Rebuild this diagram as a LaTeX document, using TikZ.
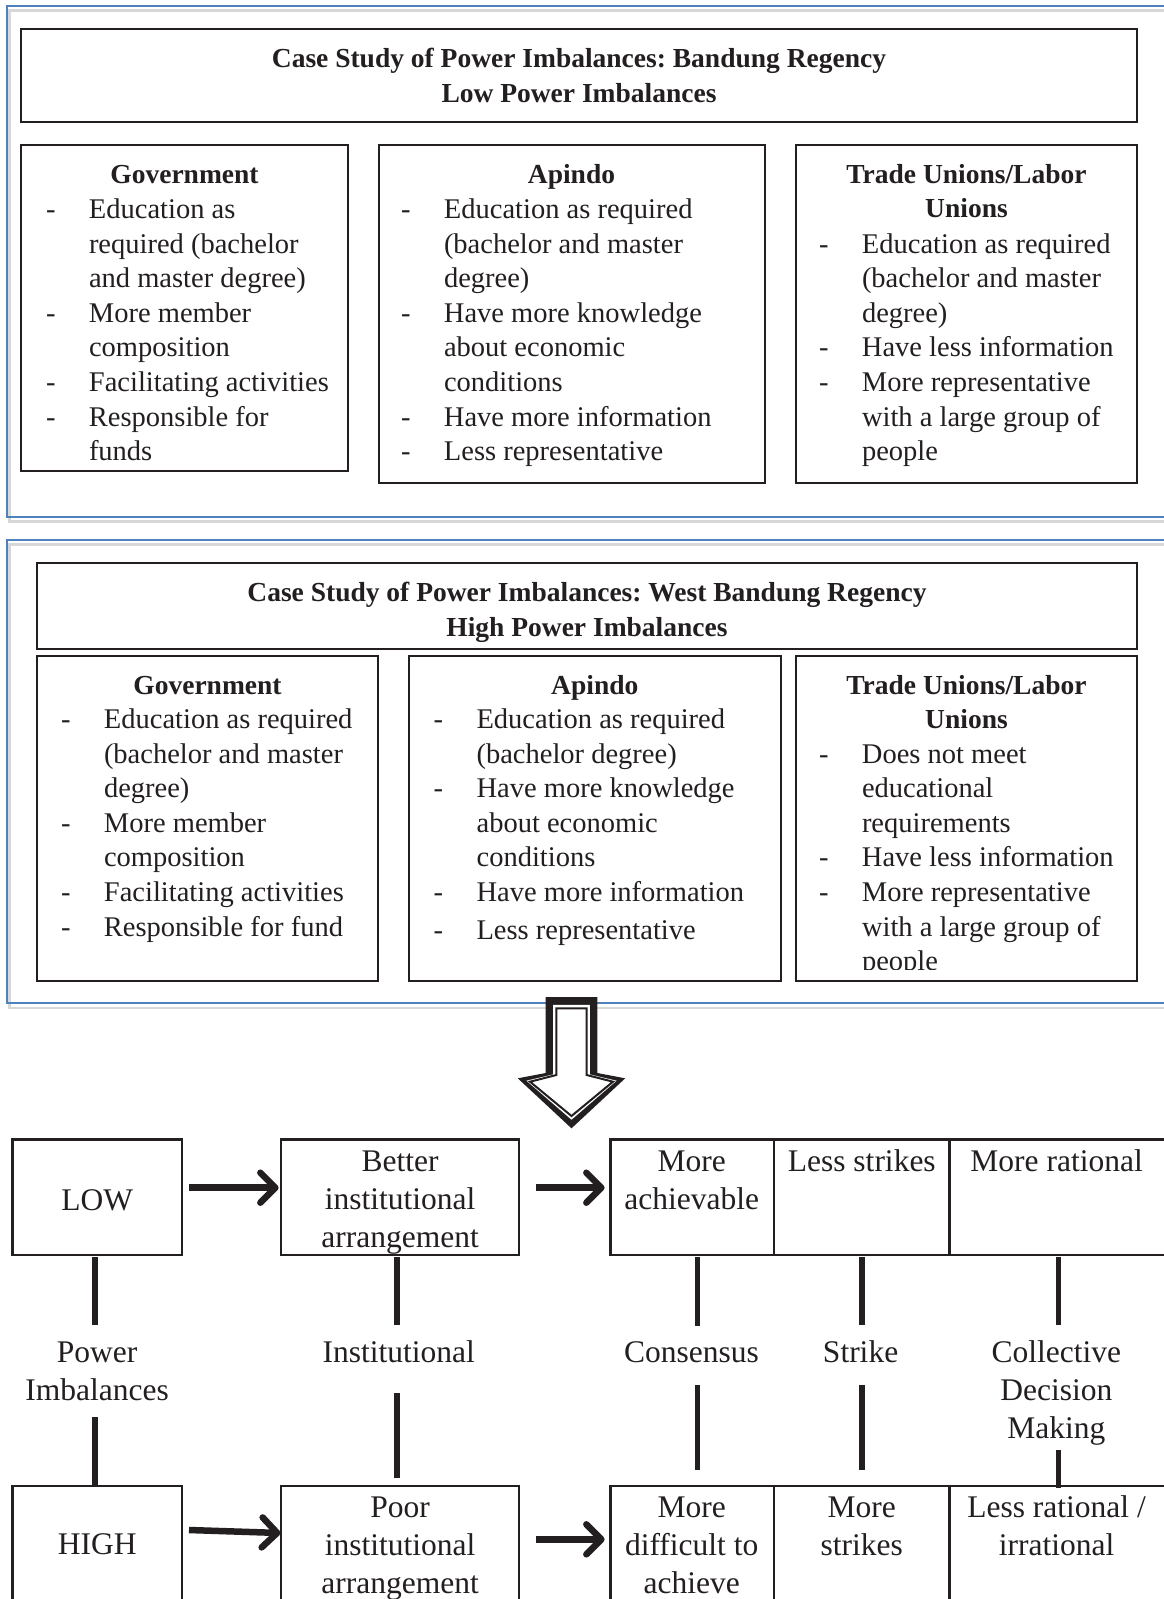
\documentclass[tikz,border=0pt]{standalone}
\usepackage{fontspec}
\setmainfont{Liberation Serif}
\usetikzlibrary{arrows.meta}
\frenchspacing
\definecolor{ink}{RGB}{35,31,32}
\definecolor{frameblue}{RGB}{79,129,189}
\definecolor{shadowgray}{RGB}{216,216,216}
\newcommand{\bodyfont}{\fontsize{28.5pt}{34.6pt}\selectfont}
\newcommand{\headsize}{\fontsize{27.5pt}{34.6pt}\selectfont}
\newcommand{\bigfont}{\fontsize{31.5pt}{38pt}\selectfont}
\newcommand{\mlc}[1]{\begin{minipage}[t]{440pt}\centering #1\end{minipage}}
\newcommand{\mlcw}[1]{\begin{minipage}[t]{1080pt}\centering #1\end{minipage}}
\newcommand{\mll}[1]{\begin{minipage}[t]{440pt}\raggedright #1\end{minipage}}
\newcommand{\bl}[1]{\makebox[43pt][l]{-}#1}
\newcommand{\cl}[1]{\hspace*{43pt}#1}
\tikzset{
  panel/.style={draw=ink, line width=2pt, anchor=north west, inner sep=0pt, outer sep=0pt},
  flowbox/.style={draw=ink, line width=2.3pt, anchor=north west, inner sep=0pt, outer sep=0pt},
  ctxt/.style={anchor=base, inner sep=0pt, outer sep=0pt, text=ink},
  ltxt/.style={anchor=base west, inner sep=0pt, outer sep=0pt, text=ink},
  headfont/.style={font=\headsize\bfseries},
  listfont/.style={font=\bodyfont},
  flowfont/.style={font=\bigfont},
  vl/.style={line width=5.5pt, draw=ink},
  harr/.style={line width=6.5pt, draw=ink, -{Straight Barb[length=15pt,width=30pt,round]}},
  bluefr/.style={draw=frameblue, line width=2.2pt},
  grayfr/.style={draw=shadowgray, line width=2.5pt},
}
\begin{document}
\begin{tikzpicture}[x=1pt,y=-1pt]
\useasboundingbox (0,0) rectangle (1163,1599);
\fill[white] (0,0) rectangle (1163,1599);

% ---------- blue frames ----------
\draw[grayfr] (1200,10.5) -- (9.5,10.5) -- (9.5,521.5) -- (1200,521.5);
\draw[bluefr] (1200,6) -- (7,6) -- (7,517) -- (1200,517);
\draw[grayfr] (1200,544.5) -- (9.5,544.5) -- (9.5,1007.8) -- (1200,1007.8);
\draw[bluefr] (1200,540) -- (7,540) -- (7,1003.3) -- (1200,1003.3);

% ---------- section 1 ----------
\node[panel, minimum width=1116pt, minimum height=93pt] (t1) at (21,29) {};
\node[panel, minimum width=327pt, minimum height=326pt] (g1) at (21,145) {};
\node[panel, minimum width=386.5pt, minimum height=338pt] (a1) at (378.5,145) {};
\node[panel, minimum width=341pt, minimum height=338pt] (u1) at (796,145) {};

\node[ctxt, headfont] (t1t) at (579,67.5) {\mlcw{Case Study of Power Imbalances: Bandung Regency\\Low Power Imbalances}};
\node[ctxt, headfont] (g1h) at (184.5,183) {Government};
\node[ltxt, listfont] (g1l) at (46,218.5) {\mll{\bl{Education as}\\\cl{required (bachelor}\\\cl{and master degree)}\\\bl{More member}\\\cl{composition}\\\bl{Facilitating activities}\\\bl{Responsible for}\\\cl{funds}}};
\node[ctxt, headfont] (a1h) at (571.5,183) {Apindo};
\node[ltxt, listfont] (a1l) at (401,218.5) {\mll{\bl{Education as required}\\\cl{(bachelor and master}\\\cl{degree)}\\\bl{Have more knowledge}\\\cl{about economic}\\\cl{conditions}\\\bl{Have more information}\\\bl{Less representative}}};
\node[ctxt, headfont] (u1h) at (966.5,183) {\mlc{Trade Unions/Labor\\Unions}};
\node[ltxt, listfont] (u1l) at (819,253) {\mll{\bl{Education as required}\\\cl{(bachelor and master}\\\cl{degree)}\\\bl{Have less information}\\\bl{More representative}\\\cl{with a large group of}\\\cl{people}}};

% ---------- section 2 ----------
\node[panel, minimum width=1099.7pt, minimum height=85.7pt] (t2) at (37,563.3) {};
\node[panel, minimum width=341pt, minimum height=325pt] (g2) at (37,656) {};
\node[panel, minimum width=371.5pt, minimum height=325pt] (a2) at (409,656) {};
\node[panel, minimum width=341pt, minimum height=325pt] (u2) at (796,656) {};

\node[ctxt, headfont] (t2t) at (587,601.5) {\mlcw{Case Study of Power Imbalances: West Bandung Regency\\High Power Imbalances}};
\node[ctxt, headfont] (g2h) at (207.5,694) {Government};
\node[ltxt, listfont] (g2l) at (61,728.5) {\mll{\bl{Education as required}\\\cl{(bachelor and master}\\\cl{degree)}\\\bl{More member}\\\cl{composition}\\\bl{Facilitating activities}\\\bl{Responsible for fund}}};
\node[ctxt, headfont] (a2h) at (594.8,694) {Apindo};
\node[ltxt, listfont] (a2l) at (433.6,728.5) {\mll{\bl{Education as required}\\\cl{(bachelor degree)}\\\bl{Have more knowledge}\\\cl{about economic}\\\cl{conditions}\\\bl{Have more information}\\[3pt]\bl{Less representative}}};
\node[ctxt, headfont] (u2h) at (966.5,694) {\mlc{Trade Unions/Labor\\Unions}};
\begin{scope}
\clip (796,656) rectangle (1137,969.5);
\node[ltxt, listfont] (u2l) at (819,763) {\mll{\bl{Does not meet}\\\cl{educational}\\\cl{requirements}\\\bl{Have less information}\\\bl{More representative}\\\cl{with a large group of}\\\cl{people}}};
\end{scope}

% ---------- big down arrow ----------
\fill[ink] (545.7,997) -- (597.3,997) -- (597.3,1073) -- (625.2,1078.3) -- (571.5,1128.3) -- (517.8,1078.3) -- (545.7,1073) -- cycle;
\fill[white] (553.1,1004.9) -- (589.9,1004.9) -- (589.9,1074.4) -- (616.6,1080.7) -- (571.5,1119.7) -- (526.4,1080.7) -- (553.1,1074.4) -- cycle;
\draw[ink, line width=2pt, line join=miter] (556.3,1008.3) -- (586.7,1008.3) -- (586.7,1075) -- (613,1081.7) -- (571.5,1116) -- (530,1081.7) -- (556.3,1075) -- cycle;

% ---------- flow boxes ----------
\node[flowbox, minimum width=169.1pt, minimum height=115.4pt] (low) at (12.6,1139.6) {};
\node[flowbox, minimum width=238.3pt, minimum height=115.4pt] (better) at (281,1139.6) {};
\node[flowbox, minimum width=163.2pt, minimum height=115.4pt] (res1a) at (610.5,1139.6) {};
\node[flowbox, minimum width=175.9pt, minimum height=115.4pt] (res1b) at (773.7,1139.6) {};
\node[flowbox, minimum width=216.4pt, minimum height=115.4pt] (res1c) at (949.6,1139.6) {};
\node[flowbox, minimum width=169.1pt, minimum height=160pt] (high) at (12.6,1486) {};
\node[flowbox, minimum width=238.3pt, minimum height=160pt] (poor) at (281,1486) {};
\node[flowbox, minimum width=163.2pt, minimum height=160pt] (res2a) at (610.5,1486) {};
\node[flowbox, minimum width=175.9pt, minimum height=160pt] (res2b) at (773.7,1486) {};
\node[flowbox, minimum width=216.4pt, minimum height=160pt] (res2c) at (949.6,1486) {};

\node[ctxt, flowfont] (lowt) at (97.2,1210.5) {LOW};
\node[ctxt, flowfont] (bettert) at (400.2,1171.5) {\mlc{Better\\institutional\\arrangement}};
\node[ctxt, flowfont] (res1at) at (691.7,1171.5) {\mlc{More\\achievable}};
\node[ctxt, flowfont] (res1bt) at (861.8,1171.5) {Less strikes};
\node[ctxt, flowfont] (res1ct) at (1056.6,1171.5) {More rational};

\node[ctxt, flowfont] (hight) at (97.2,1554.5) {HIGH};
\node[ctxt, flowfont] (poort) at (400.2,1517) {\mlc{Poor\\institutional\\arrangement}};
\node[ctxt, flowfont] (res2at) at (691.7,1517) {\mlc{More\\difficult to\\achieve}};
\node[ctxt, flowfont] (res2bt) at (861.8,1517) {\mlc{More\\strikes}};
\node[ctxt, flowfont] (res2ct) at (1056.6,1517) {\mlc{Less rational /\\irrational}};

\node[ctxt, flowfont] (pwr) at (97.2,1362) {\mlc{Power\\Imbalances}};
\node[ctxt, flowfont] (inst) at (398.8,1362) {Institutional};
\node[ctxt, flowfont] (cons) at (691.5,1362) {Consensus};
\node[ctxt, flowfont] (strk) at (860.6,1362) {Strike};
\node[ctxt, flowfont] (coll) at (1056.4,1362) {\mlc{Collective\\Decision\\Making}};

% ---------- horizontal arrows ----------
\draw[harr] ([shift={(7.7,-9.6)}]low.east) -- ([shift={(-2.4,-9.6)}]better.west);
\draw[harr] ([shift={(16.5,-9.6)}]better.east) -- ([shift={(-5.9,-9.6)}]res1a.west);
\draw[harr] ([shift={(7.3,-36)}]high.east) -- ([shift={(-0.6,-33)}]poor.west);
\draw[harr] ([shift={(16.3,-26.7)}]poor.east) -- ([shift={(-5.9,-26.7)}]res2a.west);

% ---------- vertical connectors ----------
\draw[vl, shorten <=2pt, shorten >=16pt] ([xshift=-2pt]low.south) -- ([xshift=-2pt]low.south |- pwr.north);
\draw[vl, shorten <=17pt] ([xshift=-2pt]high.north |- pwr.south) -- ([xshift=-2pt]high.north);
\draw[vl, shorten <=2pt, shorten >=15pt] ([xshift=-3pt]better.south) -- ([xshift=-3pt]better.south |- inst.north);
\draw[vl, shorten <=31pt, shorten >=7.7pt] ([xshift=-3pt]poor.north |- inst.south) -- ([xshift=-3pt]poor.north);
\draw[vl, shorten <=2pt, shorten >=15.5pt] ([xshift=5.2pt]res1a.south) -- ([xshift=5.2pt]res1a.south |- cons.north);
\draw[vl, shorten <=23pt, shorten >=16pt] ([xshift=5.2pt]res2a.north |- cons.south) -- ([xshift=5.2pt]res2a.north);
\draw[vl, shorten <=2pt, shorten >=15pt] ([xshift=0.3pt]res1b.south) -- ([xshift=0.3pt]res1b.south |- strk.north);
\draw[vl, shorten <=23pt, shorten >=16pt] ([xshift=0.3pt]res2b.north |- strk.south) -- ([xshift=0.3pt]res2b.north);
\draw[vl, shorten <=2pt, shorten >=15pt] ([xshift=0.8pt]res1c.south) -- ([xshift=0.8pt]res1c.south |- coll.north);
\draw[vl, shorten <=5.4pt, shorten >=-2pt] ([xshift=0.8pt]res2c.north |- coll.south) -- ([xshift=0.8pt]res2c.north);
\end{tikzpicture}
\end{document}
